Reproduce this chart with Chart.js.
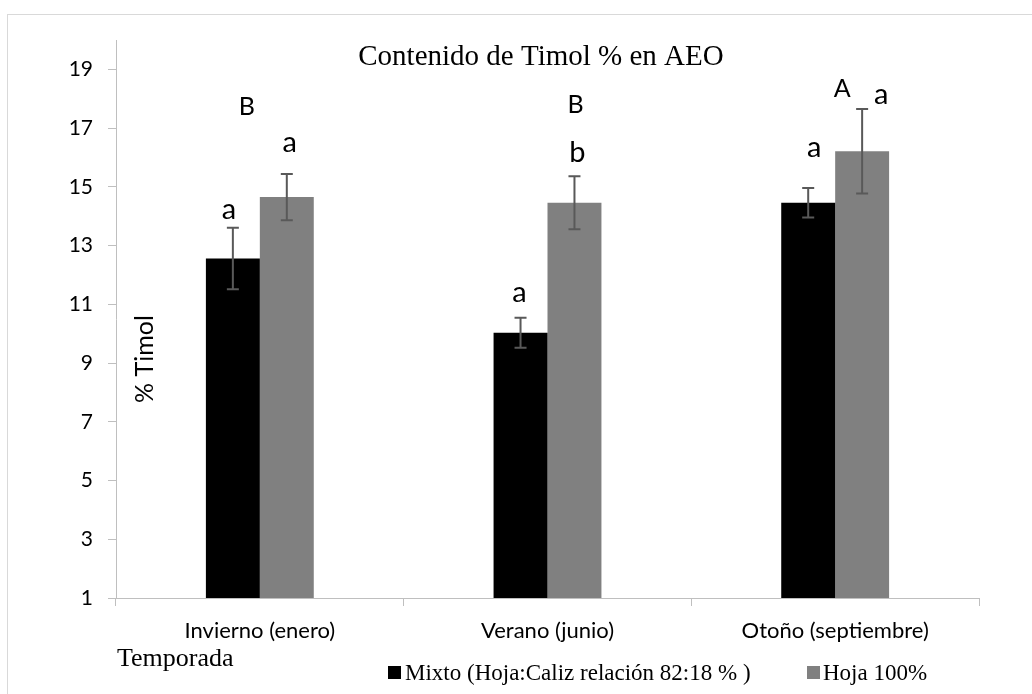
<!DOCTYPE html>
<html>
<head>
<meta charset="utf-8">
<script src="https://cdn.jsdelivr.net/npm/chart.js@4/dist/chart.umd.min.js"></script>
<style>
  html, body { margin: 0; padding: 0; background: #fff; }
  #wrap { width: 1032px; height: 694px; position: relative; }
</style>
</head>
<body>
<div id="wrap"><canvas id="timolChart"></canvas></div>
<script>
const temporadas = ['Invierno (enero)', 'Verano (junio)', 'Otoño (septiembre)'];
const mixto = [12.56, 10.03, 14.46];
const hoja = [14.65, 14.46, 16.21];
const mixtoErr = [1.05, 0.51, 0.50];
const hojaErr = [0.79, 0.90, 1.44];
const yTicks = [1, 3, 5, 7, 9, 11, 13, 15, 17, 19];

// letras de significancia y donde se apoyan (en unidades del eje y)
const mixtoLetras = ['a', 'a', 'a'];
const hojaLetras = ['a', 'b', 'a'];
const grupoLetras = ['B', 'B', 'A'];
const mixtoLetraY = [13.9, 11.07, 16.0];
const hojaLetraY = [16.18, 15.83, 17.81];
const grupoLetraY = [17.43, 17.5, 18.05];

const mixtoLetraDx = [-4, -1, 6];
const hojaLetraDx = [3, 3, 19];
const grupoLetraDx = [-13, 28, 7];

const sans = 'Lato, "Open Sans", sans-serif';
const serif = '"Liberation Serif", "DejaVu Serif", serif';

const extras = {
    id: 'extras',
    afterDatasetsDraw(chart) {
        const ctx = chart.ctx;
        const y = chart.scales.y;
        const errs = [mixtoErr, hojaErr];
        const vals = [mixto, hoja];

        ctx.save();
        ctx.strokeStyle = '#595959';
        ctx.lineWidth = 2;
        errs.forEach((err, d) => {
            chart.getDatasetMeta(d).data.forEach((bar, i) => {
                const top = y.getPixelForValue(vals[d][i] + err[i]);
                const bot = y.getPixelForValue(vals[d][i] - err[i]);
                ctx.beginPath();
                ctx.moveTo(bar.x, top); ctx.lineTo(bar.x, bot);
                ctx.moveTo(bar.x - 6, top); ctx.lineTo(bar.x + 6, top);
                ctx.moveTo(bar.x - 6, bot); ctx.lineTo(bar.x + 6, bot);
                ctx.stroke();
            });
        });

        ctx.fillStyle = '#000';
        ctx.textAlign = 'center';
        ctx.textBaseline = 'alphabetic';
        const m0 = chart.getDatasetMeta(0).data;
        const m1 = chart.getDatasetMeta(1).data;
        ctx.font = '29px ' + sans;
        m0.forEach((bar, i) => ctx.fillText(mixtoLetras[i], bar.x + mixtoLetraDx[i], y.getPixelForValue(mixtoLetraY[i])));
        m1.forEach((bar, i) => ctx.fillText(hojaLetras[i], bar.x + hojaLetraDx[i], y.getPixelForValue(hojaLetraY[i])));
        ctx.font = '25px ' + sans;
        m0.forEach((bar, i) => {
            const cx = (bar.x + m1[i].x) / 2;
            ctx.fillText(grupoLetras[i], cx + grupoLetraDx[i], y.getPixelForValue(grupoLetraY[i]));
        });
        ctx.restore();
    },
    afterDraw(chart) {
        const ctx = chart.ctx;
        ctx.save();
        ctx.strokeStyle = '#d9d9d9';
        ctx.lineWidth = 1;
        ctx.strokeRect(7.5, 14.5, 1200, 1000);

        ctx.fillStyle = '#000';
        ctx.textAlign = 'center';
        ctx.textBaseline = 'alphabetic';
        ctx.font = '29px ' + serif;
        ctx.fillText('Contenido de Timol % en AEO', 541, 65);

        ctx.save();
        ctx.translate(145, 359);
        ctx.rotate(-Math.PI / 2);
        ctx.textBaseline = 'middle';
        ctx.font = '25px ' + sans;
        ctx.fillText('% Timol', 0, 0);
        ctx.restore();

        ctx.textAlign = 'left';
        ctx.font = '26px ' + serif;
        ctx.fillText('Temporada', 117, 666);

        ctx.font = '23px ' + serif;
        ctx.fillStyle = '#000';
        ctx.fillRect(388, 666, 13, 13);
        ctx.fillText('Mixto (Hoja:Caliz relación 82:18 % )', 405, 680);
        ctx.fillStyle = '#808080';
        ctx.fillRect(807, 666, 13, 13);
        ctx.fillStyle = '#000';
        ctx.fillText('Hoja 100%', 823, 680);
        ctx.restore();
    }
};

const ctx = document.getElementById('timolChart').getContext('2d');
new Chart(ctx, {
    type: 'bar',
    data: {
        labels: temporadas,
        datasets: [{
            label: 'Mixto (Hoja:Caliz relación 82:18 % )',
            data: mixto,
            backgroundColor: '#000000',
            barPercentage: 1,
            categoryPercentage: 0.375
        }, {
            label: 'Hoja 100%',
            data: hoja,
            backgroundColor: '#808080',
            barPercentage: 1,
            categoryPercentage: 0.375
        }]
    },
    options: {
        responsive: true,
        maintainAspectRatio: false,
        animation: false,
        layout: { padding: { top: 40, right: 53, left: 0, bottom: 36 } },
        plugins: {
            legend: { display: false },
            tooltip: { enabled: false }
        },
        scales: {
            x: {
                grid: { display: true, drawOnChartArea: false, drawTicks: true, tickLength: 8, color: '#bfbfbf', offset: true },
                border: { color: '#bfbfbf', width: 1 },
                ticks: { color: '#000', font: { family: sans, size: 22 }, padding: 12 },
                afterFit: scale => { scale.height = 60; }
            },
            y: {
                min: 1,
                max: 20,
                grid: { display: true, drawOnChartArea: false, drawTicks: true, tickLength: 8, color: '#bfbfbf' },
                border: { color: '#bfbfbf', width: 1 },
                ticks: { color: '#000', font: { family: sans, size: 21 }, padding: 15 },
                afterBuildTicks: scale => { scale.ticks = yTicks.map(v => ({ value: v })); },
                afterFit: scale => { scale.width = 116; }
            }
        }
    },
    plugins: [extras]
});
</script>
</body>
</html>
